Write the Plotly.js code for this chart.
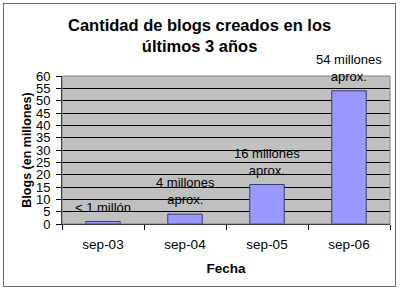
<!DOCTYPE html>
<html><head><meta charset="utf-8">
<script src="https://cdn.plot.ly/plotly-3.0.1.min.js"></script>
<style>
body{margin:0;padding:0;background:#fff;}
#wrap{position:relative;width:400px;height:291px;}
#chart{width:400px;height:291px;}
#frame{position:absolute;left:3px;top:3px;width:391px;height:282px;border:1px solid #6a6a6a;pointer-events:none;}
</style>
</head><body>
<div id="wrap"><div id="chart"></div><div id="frame"></div></div>
<script>
const categories = ['sep-03','sep-04','sep-05','sep-06'];
const blogs = [1, 4, 16, 54];
const labels = ['< 1 millón', '4 millones<br>aprox.', '16 millones<br>aprox.', '54 millones<br>aprox.'];
const yTicks = [0,5,10,15,20,25,30,35,40,45,50,55,60];

const font = 'Liberation Sans, Arial, sans-serif';
const annotations = categories.map((c, i) => ({
  x: c, y: blogs[i], xref:'x', yref:'y', text: labels[i], showarrow:false,
  yanchor:'bottom', xanchor:'center', yshift:5,
  font:{family:font, size:13, color:'#000'}
}));
annotations.push({
  text:'Cantidad de blogs creados en los<br>últimos 3 años', xref:'paper', yref:'paper',
  x:0.42, xanchor:'center', y:1 + (76-35)/148, yanchor:'middle', showarrow:false,
  font:{family:font, size:16.5, color:'#000', weight:'bold'}
});

Plotly.newPlot('chart', [{
  type:'bar', x:categories, y:blogs, width:0.42,
  marker:{color:'#9999ff', line:{color:'#3a3a6a', width:1}},
  hoverinfo:'none'
}], {
  width:400, height:291,
  margin:{l:62, r:10, t:76, b:67},
  paper_bgcolor:'#fff', plot_bgcolor:'#c0c0c0',
  showlegend:false,
  xaxis:{type:'category', tickson:'boundaries', ticks:'outside', ticklen:5, tickcolor:'#000',
    showline:true, linecolor:'#000', linewidth:1, showgrid:false, ticklabelstandoff:8,
    tickfont:{family:font, size:13.5, color:'#000'},
    title:{text:'Fecha', font:{family:font, size:13.5, color:'#000', weight:'bold'}, standoff:12}},
  yaxis:{range:[0,60], tickvals:yTicks, ticks:'outside', ticklen:5, tickcolor:'#000',
    showline:true, linecolor:'#000', linewidth:1, showgrid:true, gridcolor:'#000', gridwidth:1,
    zeroline:false, ticklabelstandoff:3,
    tickfont:{family:font, size:13, color:'#000'},
    title:{text:'Blogs (en millones)', font:{family:font, size:12.5, color:'#000', weight:'bold'}, standoff:1}},
  annotations: annotations,
  shapes:[{type:'rect', xref:'paper', yref:'paper', x0:0, x1:1, y0:0, y1:1, line:{color:'#808080', width:1}}]
}, {displayModeBar:false, staticPlot:true});
</script>
</body></html>
